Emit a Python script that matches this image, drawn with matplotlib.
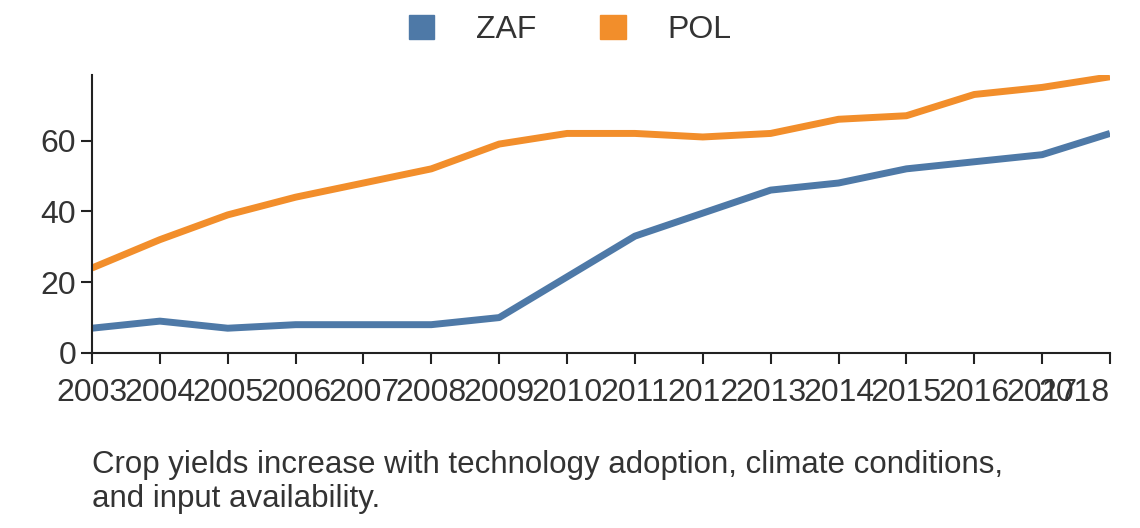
import matplotlib.pyplot as plt
from matplotlib.patches import Patch

plt.rcParams['font.family'] = ['Liberation Sans', 'DejaVu Sans']

years = list(range(2003, 2019))
zaf = [7, 9, 7, 8, 8, 8, 10, 21.5, 33, 39.5, 46, 48, 52, 54, 56, 62]
pol = [24, 32, 39, 44, 48, 52, 59, 62, 62, 61, 62, 66, 67, 73, 75, 78]

c_zaf = '#4e79a7'
c_pol = '#f28e2b'
txt = '#333333'

fig = plt.figure(figsize=(11.4, 5.28), dpi=100)
ax = fig.add_axes([92 / 1140, 1 - 353 / 528, 1018 / 1140, 278 / 528])

ax.plot(years, zaf, color=c_zaf, lw=5, solid_capstyle='butt')
ax.plot(years, pol, color=c_pol, lw=5, solid_capstyle='butt')

ax.set_xlim(2003, 2018)
ax.set_ylim(0, 78.5)
ax.set_xticks(years)
ax.set_xticklabels([str(y) for y in years])
ax.set_yticks([0, 20, 40, 60])
for s in ['top', 'right']:
    ax.spines[s].set_visible(False)
for s in ['left', 'bottom']:
    ax.spines[s].set_linewidth(1.5)
    ax.spines[s].set_color('#222222')
ax.tick_params(axis='both', labelsize=23, colors='#222222', labelcolor=txt,
               length=8, width=1.5, direction='out')
ax.tick_params(axis='x', pad=10)
ax.get_xticklabels()[-1].set_ha('right')

handles = [Patch(color=c_zaf, label='ZAF'), Patch(color=c_pol, label='POL')]
fig.legend(handles=handles, loc='center', bbox_to_anchor=(0.5, 1 - 30 / 528),
           ncol=2, frameon=False, fontsize=23, handlelength=0.8, handleheight=0.8,
           columnspacing=2.0, handletextpad=1.3, labelcolor=txt)

fig.text(92 / 1140, 1 - 482 / 528,
         'Crop yields increase with technology adoption, climate conditions,\nand input availability.',
         fontsize=22.5, color=txt, va='center', ha='left', linespacing=1.15)

fig.savefig('out.png', dpi=100)
